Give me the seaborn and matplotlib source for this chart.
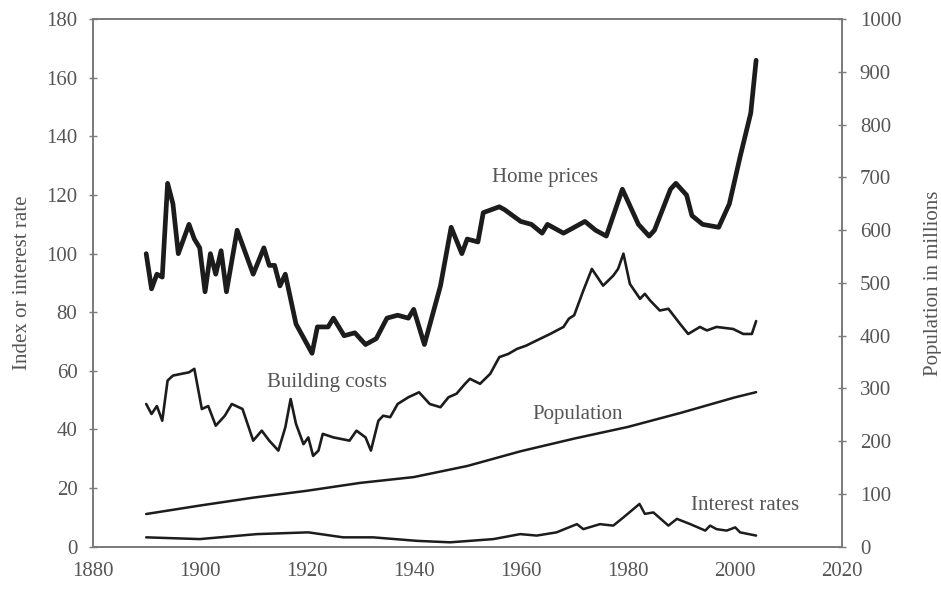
"""
Home prices, building costs, population and interest rates, 1890-2004.
"""

import pandas as pd
import matplotlib.pyplot as plt
import seaborn as sns

# Home price index (left axis)
home_years = [1890, 1891, 1892, 1893, 1894, 1895, 1896, 1898, 1899, 1900,
              1901, 1902, 1903, 1904, 1905, 1907, 1910, 1912, 1913, 1914,
              1915, 1916, 1918, 1921, 1922, 1924, 1925, 1927, 1929, 1931,
              1933, 1935, 1937, 1939, 1940, 1942, 1945, 1947, 1949, 1950,
              1952, 1953, 1956, 1957, 1960, 1962, 1964, 1965, 1968, 1972,
              1974, 1976, 1979, 1982, 1984, 1985, 1988, 1989, 1991, 1992,
              1994, 1997, 1999, 2001, 2003, 2004]
home_prices = [100, 88, 93, 92, 124, 117, 100, 110, 105, 102,
               87, 100, 93, 101, 87, 108, 93, 102, 96, 96,
               89, 93, 76, 66, 75, 75, 78, 72, 73, 69,
               71, 78, 79, 78, 81, 69, 89, 109, 100, 105,
               104, 114, 116, 115, 111, 110, 107, 110, 107, 111,
               108, 106, 122, 110, 106, 108, 122, 124, 120, 113,
               110, 109, 117, 133, 148, 166]

# Building cost index (left axis)
cost_years = [1890, 1891, 1892, 1893, 1894, 1895, 1896.6, 1898, 1899, 1900.4,
              1901.6, 1903, 1904.7, 1906, 1908, 1910, 1911.6, 1913, 1914.7, 1916,
              1917, 1918, 1919.4, 1920.3, 1921.2, 1922.2, 1923, 1925, 1928, 1929.3,
              1931, 1932, 1933.4, 1934.3, 1935.6, 1937, 1939, 1941, 1943, 1945,
              1946.5, 1948, 1949.6, 1950.5, 1952.4, 1954.3, 1956, 1957.7, 1959.3, 1961,
              1963, 1965.5, 1968, 1969, 1970, 1971.7, 1973.3, 1975.4, 1977.3, 1978.2,
              1979.2, 1980.4, 1982.3, 1983.2, 1984.2, 1986, 1987.6, 1989.8, 1991.3, 1993.5,
              1994.8, 1996.6, 1999.7, 2001.6, 2003.2, 2004]
building_costs = [48.7, 45.3, 48, 43, 56.7, 58.4, 59, 59.5, 60.7, 47,
                  48, 41.3, 44.7, 48.7, 47, 36.2, 39.6, 36.2, 32.8, 40.7,
                  50.4, 41.9, 35, 37.3, 31, 32.8, 38.5, 37.3, 36.2, 39.6,
                  37.3, 32.8, 43, 44.7, 44.2, 48.7, 51, 52.7, 48.7, 47.6,
                  51, 52.2, 55.6, 57.3, 55.6, 59, 64.7, 65.8, 67.5, 68.6,
                  70.4, 72.6, 75, 77.8, 79, 87.4, 94.8, 89.1, 92.5, 94.8,
                  100, 89.7, 84.6, 86.3, 84, 80.6, 81.2, 76, 72.6, 75,
                  73.8, 75, 74.3, 72.6, 72.6, 77]

# Long-term interest rate, percent (left axis)
rate_years = [1890, 1900, 1910.7, 1920.3, 1926.8, 1932.4, 1940.6, 1946.8, 1950.5, 1954.9,
              1959.9, 1963, 1966.7, 1970.5, 1971.7, 1974.8, 1977.3, 1979.2, 1980.7, 1982.2,
              1983.2, 1984.8, 1987.6, 1989.2, 1991.7, 1994.5, 1995.4, 1996.6, 1998.5, 2000.1,
              2001, 2004]
interest_rates = [3.2, 2.6, 4.3, 4.9, 3.2, 3.2, 2.0, 1.5, 2.0, 2.6,
                  4.3, 3.8, 4.9, 7.7, 6.0, 7.7, 7.2, 10.0, 12.3, 14.6,
                  11.2, 11.7, 7.2, 9.5, 7.7, 5.5, 7.2, 6.0, 5.5, 6.6,
                  4.9, 3.8]

# US population in millions (right axis)
pop_years = [1890, 1900, 1910, 1920, 1930, 1940, 1950, 1960, 1970, 1980, 1990, 2000, 2004]
population = [62, 78, 93, 106, 121, 132, 153, 181, 205, 227, 254, 283, 293]

left_ticks = list(range(0, 181, 20))
right_ticks = list(range(0, 1001, 100))
year_ticks = list(range(1880, 2021, 20))

sns.set_theme(style="white")
plt.rcParams['font.family'] = ['Liberation Serif', 'DejaVu Serif']

TEXT = '#555555'
LINE = '#1c1c1c'
SPINE = '#7a7a7a'

fig = plt.figure(figsize=(9.41, 5.92), dpi=100)
ax = fig.add_axes([0.0985, 0.0765, 0.796, 0.891])
ax2 = ax.twinx()

home_df = pd.DataFrame({'year': home_years, 'value': home_prices})
cost_df = pd.DataFrame({'year': cost_years, 'value': building_costs})
rate_df = pd.DataFrame({'year': rate_years, 'value': interest_rates})
pop_df = pd.DataFrame({'year': pop_years, 'value': population})

line_kw = dict(color=LINE, solid_joinstyle='round', solid_capstyle='round')
sns.lineplot(data=home_df, x='year', y='value', ax=ax, linewidth=3.4, **line_kw)
sns.lineplot(data=cost_df, x='year', y='value', ax=ax, linewidth=1.9, **line_kw)
sns.lineplot(data=rate_df, x='year', y='value', ax=ax, linewidth=1.8, **line_kw)
sns.lineplot(data=pop_df, x='year', y='value', ax=ax2, linewidth=1.8, **line_kw)

ax.set_xlim(1880, 2020)
ax.set_ylim(0, 180)
ax2.set_ylim(0, 1000)
ax.set_xticks(year_ticks)
ax.set_yticks(left_ticks)
ax2.set_yticks(right_ticks)

ax.set_xlabel('')
ax.set_ylabel('Index or interest rate', fontsize=15, color=TEXT, labelpad=10)
ax2.set_ylabel('Population in millions', fontsize=15, color=TEXT, rotation=90, labelpad=16)

for a in (ax, ax2):
    for s in a.spines.values():
        s.set_color(SPINE)
        s.set_linewidth(1.2)
    a.tick_params(direction='inout', length=6, width=1, color=SPINE,
                  labelsize=15, labelcolor=TEXT)
ax.tick_params(axis='x', pad=8)
ax.tick_params(axis='y', pad=8)
ax2.tick_params(axis='y', pad=10)
ax2.grid(False)
ax.grid(False)

labels = [('Home prices', 1964.5, 126), ('Building costs', 1923.8, 56),
          ('Population', 1970.7, 45), ('Interest rates', 2001.9, 14)]
for txt, xv, yv in labels:
    ax.text(xv, yv, txt, fontsize=15, color=TEXT, ha='center', va='center')

fig.savefig('out.png', dpi=100)
